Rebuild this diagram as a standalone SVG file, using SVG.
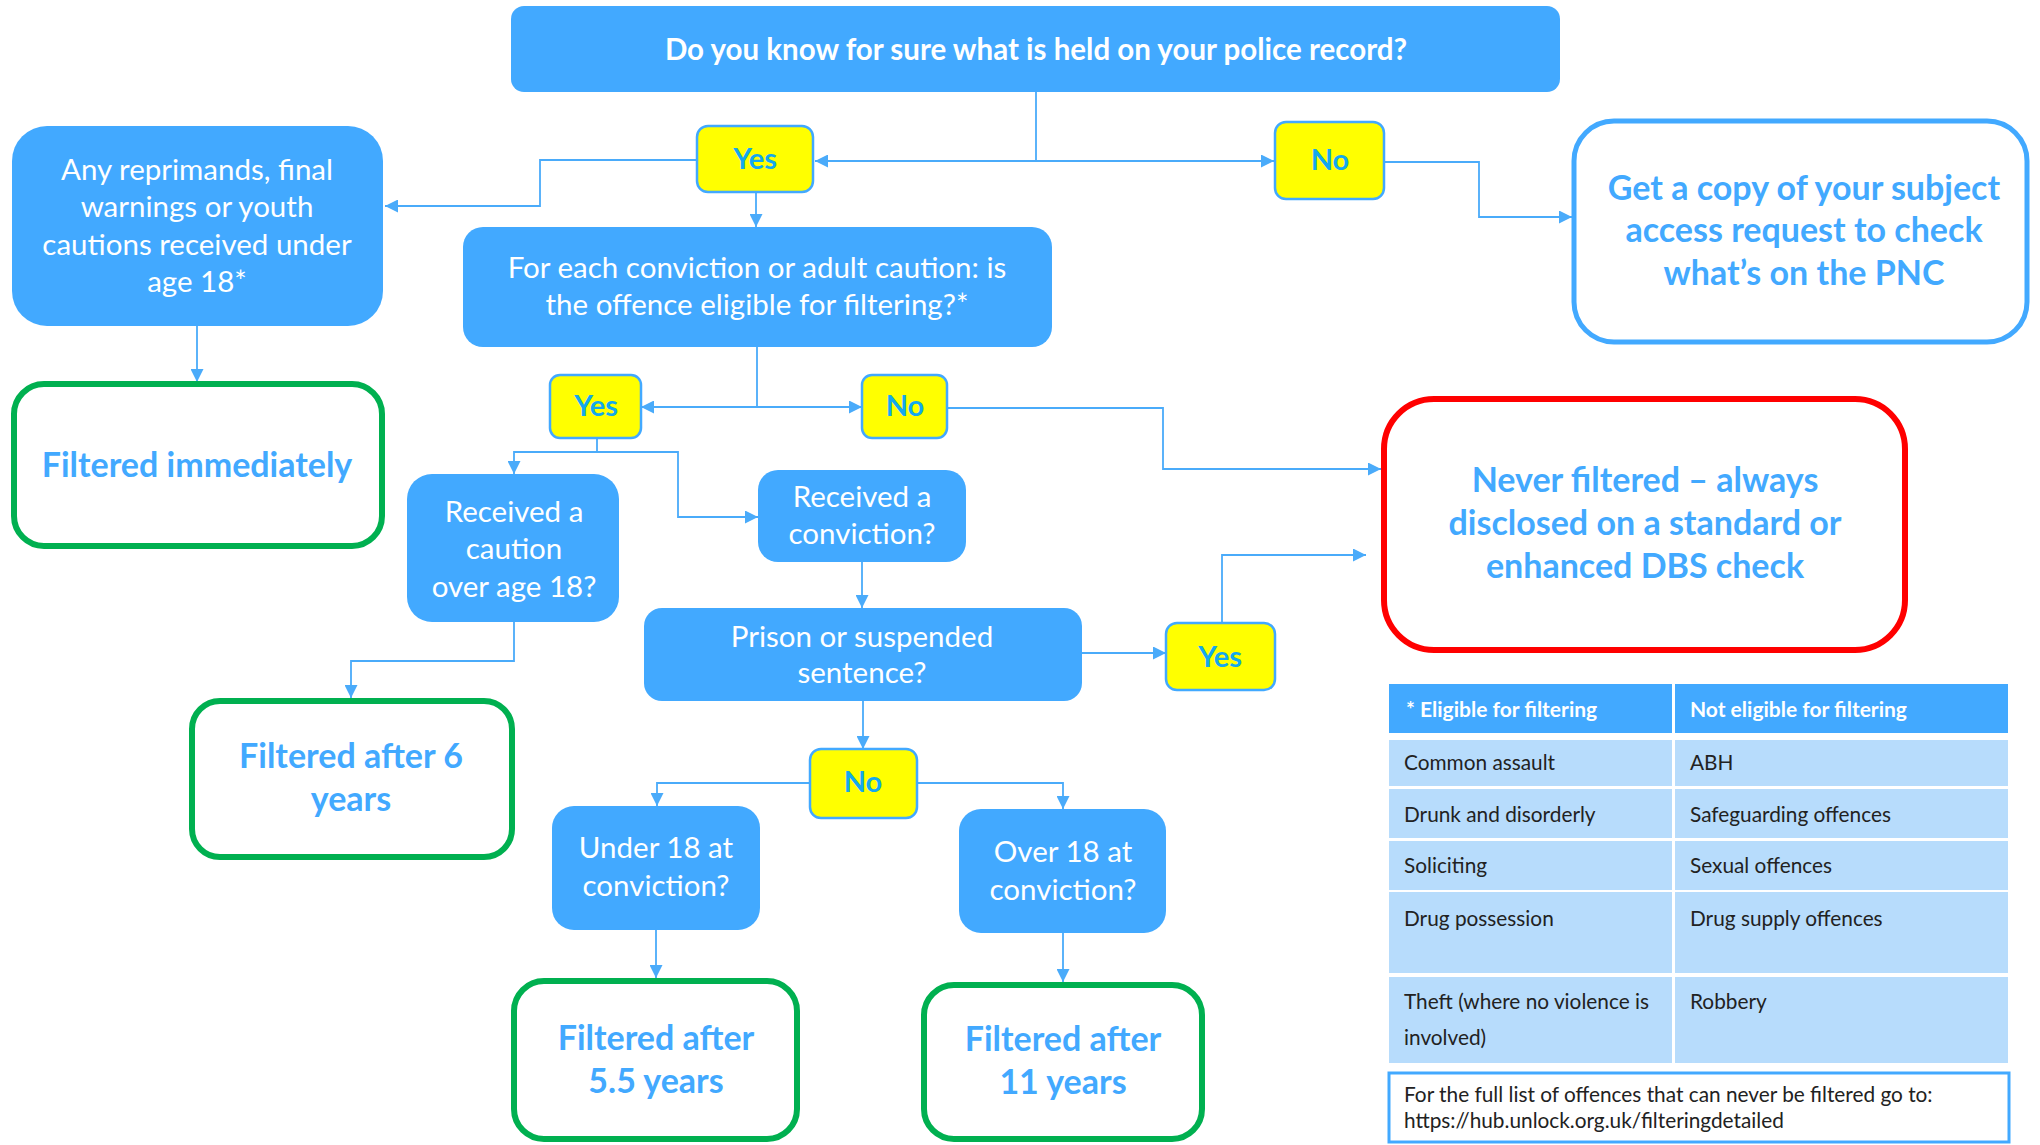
<svg xmlns="http://www.w3.org/2000/svg" width="2040" height="1145" viewBox="0 0 2040 1145">
<defs>
<style>
.bx{fill:#42A9FF}
.yn{fill:#FFFF00;stroke:#42A9FF;stroke-width:2.5}
.gr{fill:#fff;stroke:#00B050;stroke-width:6}
.ynt{font-family:Lato,"Liberation Sans",sans-serif;font-weight:bold;font-size:29px;fill:#14A8EE;text-anchor:middle}
.wt{font-family:Lato,"Liberation Sans",sans-serif;font-size:29.5px;fill:#fff;text-anchor:middle}
.tt{font-family:Lato,"Liberation Sans",sans-serif;font-weight:bold;font-size:29.5px;fill:#fff;text-anchor:middle}
.bt{font-family:Lato,"Liberation Sans",sans-serif;font-weight:bold;font-size:34px;fill:#42A9FF;text-anchor:middle}
.c{fill:none;stroke:#4AABFA;stroke-width:1.8;marker-end:url(#ah)}
.cn{fill:none;stroke:#4AABFA;stroke-width:1.8}
.hd{fill:#42A9FF}
.rw{fill:#B7DCFC}
.ht{font-family:Lato,"Liberation Sans",sans-serif;font-weight:bold;font-size:21px;fill:#fff}
.rt{font-family:Lato,"Liberation Sans",sans-serif;font-size:20.8px;fill:#222}
</style>
<marker id="ah" viewBox="0 0 10 10" refX="10" refY="5" markerUnits="userSpaceOnUse" markerWidth="13" markerHeight="13" orient="auto">
<path d="M0,0 L10,5 L0,10 z" fill="#4AABFA"/>
</marker>
</defs>
<rect width="2040" height="1145" fill="#fff"/>

<g id="connectors">
<path class="cn" d="M1036,92 V161"/>
<path class="c" d="M1036,161 H815"/>
<path class="c" d="M1036,161 H1274"/>
<path class="c" d="M697,160 H540 V206 H385"/>
<path class="c" d="M756,192 V227"/>
<path class="c" d="M1384,162 H1479 V217 H1572"/>
<path class="c" d="M197,326 V382"/>
<path class="c" d="M757,347 V407 H641"/>
<path class="c" d="M757,407 H862"/>
<path class="c" d="M947,408 H1163 V469 H1381"/>
<path class="c" d="M597,438 V452 H514 V474"/>
<path class="c" d="M597,452 H678 V517 H758"/>
<path class="c" d="M514,622 V661 H351 V698"/>
<path class="c" d="M862,562 V608"/>
<path class="c" d="M1082,653 H1166"/>
<path class="c" d="M1222,623 V555 H1366"/>
<path class="c" d="M863,701 V749"/>
<path class="c" d="M810,783 H657 V806"/>
<path class="c" d="M917,783 H1063 V809"/>
<path class="c" d="M656,930 V978"/>
<path class="c" d="M1063,933 V982"/>
</g>

<g id="n-top">
<rect class="bx" x="511" y="6" width="1049" height="86" rx="13"/>
<text class="tt" x="1036" y="60">Do you know for sure what is held on your police record?</text>
</g>
<g id="n-yes1">
<rect class="yn" x="697" y="126" width="116" height="66" rx="11"/>
<text class="ynt" x="755" y="169">Yes</text>
</g>
<g id="n-no1">
<rect class="yn" x="1275" y="122" width="109" height="77" rx="11"/>
<text class="ynt" x="1330" y="170">No</text>
</g>
<g id="n-reprimands">
<rect class="bx" x="12" y="126" width="371" height="200" rx="35"/>
<text class="wt" x="197" y="180">Any reprimands, final</text>
<text class="wt" x="197" y="217">warnings or youth</text>
<text class="wt" x="197" y="255">cautions received under</text>
<text class="wt" x="197" y="292">age 18*</text>
</g>
<g id="n-foreach">
<rect class="bx" x="463" y="227" width="589" height="120" rx="20"/>
<text class="wt" x="757" y="278">For each conviction or adult caution: is</text>
<text class="wt" x="757" y="315">the offence eligible for filtering?*</text>
</g>
<g id="n-sar">
<rect x="1574" y="121" width="453" height="221" rx="40" fill="#fff" stroke="#42A9FF" stroke-width="5"/>
<text class="bt" x="1804" y="200">Get a copy of your subject</text>
<text class="bt" x="1804" y="242">access request to check</text>
<text class="bt" x="1804" y="285">what’s on the PNC</text>
</g>
<g id="n-immediately">
<rect class="gr" x="14" y="384" width="368" height="162" rx="30"/>
<text class="bt" x="197" y="477">Filtered immediately</text>
</g>
<g id="n-yes2">
<rect class="yn" x="550" y="375" width="91" height="63" rx="10"/>
<text class="ynt" x="596" y="416">Yes</text>
</g>
<g id="n-no2">
<rect class="yn" x="862" y="375" width="85" height="63" rx="10"/>
<text class="ynt" x="905" y="416">No</text>
</g>
<g id="n-caution">
<rect class="bx" x="407" y="474" width="212" height="148" rx="25"/>
<text class="wt" x="514" y="522">Received a</text>
<text class="wt" x="514" y="559">caution</text>
<text class="wt" x="514" y="597">over age 18?</text>
</g>
<g id="n-conviction">
<rect class="bx" x="758" y="470" width="208" height="92" rx="20"/>
<text class="wt" x="862" y="507">Received a</text>
<text class="wt" x="862" y="544">conviction?</text>
</g>
<g id="n-prison">
<rect class="bx" x="644" y="608" width="438" height="93" rx="18"/>
<text class="wt" x="862" y="647">Prison or suspended</text>
<text class="wt" x="862" y="683">sentence?</text>
</g>
<g id="n-yes3">
<rect class="yn" x="1166" y="623" width="109" height="67" rx="11"/>
<text class="ynt" x="1220" y="667">Yes</text>
</g>
<g id="n-never">
<rect x="1384" y="399" width="521" height="251" rx="50" fill="#fff" stroke="#FF0000" stroke-width="6"/>
<text class="bt" x="1645" y="492">Never filtered – always</text>
<text class="bt" x="1645" y="535">disclosed on a standard or</text>
<text class="bt" x="1645" y="578">enhanced DBS check</text>
</g>
<g id="n-six">
<rect class="gr" x="192" y="701" width="320" height="156" rx="28"/>
<text class="bt" x="351" y="768">Filtered after 6</text>
<text class="bt" x="351" y="811">years</text>
</g>
<g id="n-no3">
<rect class="yn" x="810" y="749" width="107" height="69" rx="11"/>
<text class="ynt" x="863" y="792">No</text>
</g>
<g id="n-under18">
<rect class="bx" x="552" y="806" width="208" height="124" rx="22"/>
<text class="wt" x="656" y="858">Under 18 at</text>
<text class="wt" x="656" y="896">conviction?</text>
</g>
<g id="n-over18">
<rect class="bx" x="959" y="809" width="207" height="124" rx="22"/>
<text class="wt" x="1063" y="862">Over 18 at</text>
<text class="wt" x="1063" y="900">conviction?</text>
</g>
<g id="n-55">
<rect class="gr" x="514" y="981" width="283" height="158" rx="30"/>
<text class="bt" x="656" y="1050">Filtered after</text>
<text class="bt" x="656" y="1093">5.5 years</text>
</g>
<g id="n-11">
<rect class="gr" x="924" y="985" width="278" height="154" rx="30"/>
<text class="bt" x="1063" y="1051">Filtered after</text>
<text class="bt" x="1063" y="1094">11 years</text>
</g>

<g id="table">
<rect class="hd" x="1389" y="684" width="283" height="49"/>
<rect class="hd" x="1675" y="684" width="333" height="49"/>
<rect class="rw" x="1389" y="740" width="283" height="46"/>
<rect class="rw" x="1675" y="740" width="333" height="46"/>
<rect class="rw" x="1389" y="789" width="283" height="49"/>
<rect class="rw" x="1675" y="789" width="333" height="49"/>
<rect class="rw" x="1389" y="841" width="283" height="49"/>
<rect class="rw" x="1675" y="841" width="333" height="49"/>
<rect class="rw" x="1389" y="892" width="283" height="81"/>
<rect class="rw" x="1675" y="892" width="333" height="81"/>
<rect class="rw" x="1389" y="977" width="283" height="86"/>
<rect class="rw" x="1675" y="977" width="333" height="86"/>
<text class="ht" x="1406" y="717">* Eligible for filtering</text>
<text class="ht" x="1690" y="717">Not eligible for filtering</text>
<text class="rt" x="1404" y="770">Common assault</text>
<text class="rt" x="1690" y="770">ABH</text>
<text class="rt" x="1404" y="822">Drunk and disorderly</text>
<text class="rt" x="1690" y="822">Safeguarding offences</text>
<text class="rt" x="1404" y="873">Soliciting</text>
<text class="rt" x="1690" y="873">Sexual offences</text>
<text class="rt" x="1404" y="926">Drug possession</text>
<text class="rt" x="1690" y="926">Drug supply offences</text>
<text class="rt" x="1404" y="1009">Theft (where no violence is</text>
<text class="rt" x="1404" y="1045">involved)</text>
<text class="rt" x="1690" y="1009">Robbery</text>
</g>
<g id="n-footnote">
<rect x="1389" y="1073" width="620" height="69" fill="#fff" stroke="#42A9FF" stroke-width="3"/>
<text class="rt" x="1404" y="1102">For the full list of offences that can never be filtered go to:</text>
<text class="rt" x="1404" y="1128">https://hub.unlock.org.uk/filteringdetailed</text>
</g>
</svg>
